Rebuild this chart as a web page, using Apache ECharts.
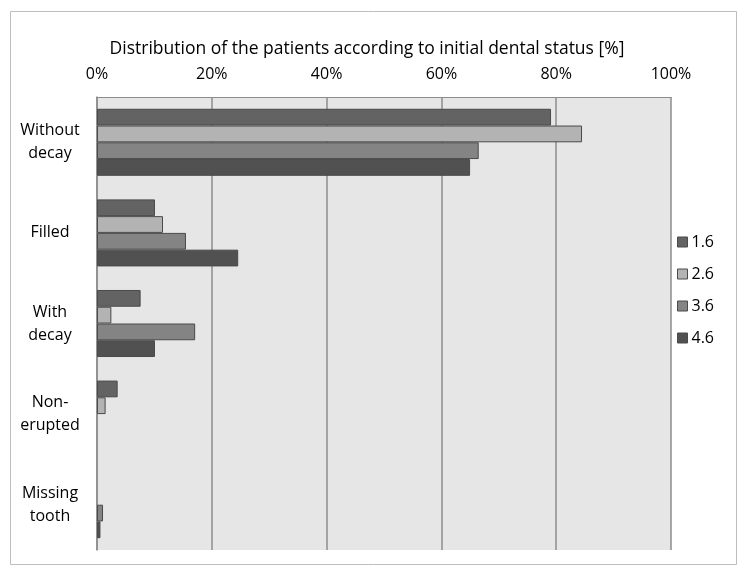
<!DOCTYPE html>
<html>
<head>
<meta charset="utf-8">
<script src="https://cdn.jsdelivr.net/npm/echarts@6/dist/echarts.min.js"></script>
<style>
  html, body { margin: 0; padding: 0; background: #fff; }
  #myChart { width: 744px; height: 576px; }
</style>
</head>
<body>
<div id="myChart"></div>
<script>
// categories (top to bottom)
var categories = ['Without\ndecay', 'Filled', 'With\ndecay', 'Non-\nerupted', 'Missing\ntooth'];
var seriesNames = ['1.6', '2.6', '3.6', '4.6'];
// values in %
var tooth16 = [79.1, 10.1, 7.6, 3.6, 0];
var tooth26 = [84.5, 11.5, 2.5, 1.5, 0];
var tooth36 = [66.5, 15.5, 17.1, 0, 1.05];
var tooth46 = [65.0, 24.6, 10.1, 0, 0.6];
var xTicks = [0, 20, 40, 60, 80, 100];

var colors = ['#636363', '#b3b3b3', '#848484', '#515151'];
var allData = [tooth16, tooth26, tooth36, tooth46];

var myChart = echarts.init(document.getElementById('myChart'));
var font = 'Open Sans';

var series = [];
for (var i = 0; i < seriesNames.length; i++) {
  // zero bars draw nothing (no border sliver)
  var items = allData[i].map(function (v) {
    return v === 0 ? { value: v, itemStyle: { borderWidth: 0 } } : v;
  });
  series.push({
    name: seriesNames[i],
    type: 'bar',
    data: items,
    barGap: '0%',
    barCategoryGap: '26%',
    itemStyle: { color: colors[i], borderColor: '#4a4a4a', borderWidth: 1 }
  });
}

myChart.setOption({
  animation: false,
  color: colors,
  title: {
    text: 'Distribution of the patients according to initial dental status [%]',
    left: 362, top: 35, textAlign: 'center',
    textStyle: { fontFamily: font, fontSize: 17.5, fontWeight: 'normal', color: '#000' }
  },
  graphic: [{
    type: 'rect',
    shape: { x: 10.5, y: 11.5, width: 726, height: 553 },
    style: { fill: 'none', stroke: '#bdbdbd', lineWidth: 1 },
    z: -10
  }],
  legend: {
    orient: 'vertical',
    left: 672, top: 229,
    itemWidth: 10, itemHeight: 10, itemGap: 16,
    icon: 'rect',
    data: seriesNames,
    textStyle: { fontFamily: font, fontSize: 16, color: '#000', padding: [0, 0, 0, -1] },
    itemStyle: { borderColor: '#4a4a4a', borderWidth: 1 }
  },
  grid: {
    left: 97, top: 97, right: 73, bottom: 26,
    show: true, backgroundColor: '#e6e6e6', borderWidth: 0
  },
  xAxis: {
    type: 'value', position: 'top',
    min: 0, max: 100, interval: 20,
    axisLine: { show: true, lineStyle: { color: '#8c8c8c', width: 1 } },
    axisTick: { show: false },
    splitLine: { show: true, lineStyle: { color: '#8c8c8c', width: 1.5 } },
    axisLabel: {
      fontFamily: font, fontSize: 16, color: '#000', margin: 15,
      formatter: function (v) { return xTicks.indexOf(v) >= 0 ? v + '%' : ''; }
    }
  },
  yAxis: {
    type: 'category', data: categories, inverse: true,
    axisLine: { show: true, lineStyle: { color: '#8c8c8c', width: 1.5 } },
    axisTick: { show: false },
    axisLabel: {
      fontFamily: font, fontSize: 16, color: '#000', align: 'center', margin: 47, lineHeight: 23
    }
  },
  series: series
});
</script>
</body>
</html>
